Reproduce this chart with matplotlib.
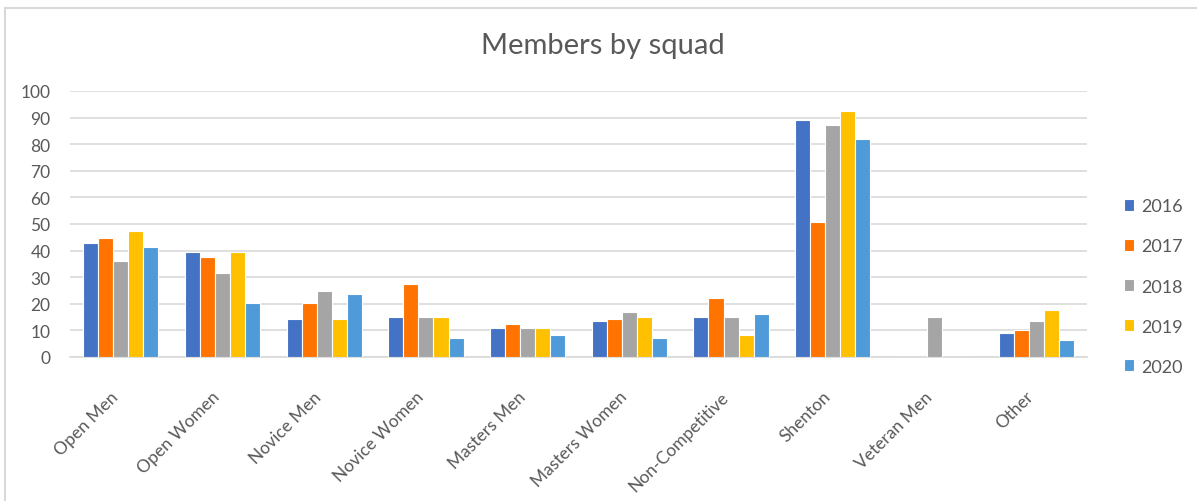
import matplotlib
matplotlib.use("Agg")
from matplotlib import pyplot as plt
from matplotlib.lines import Line2D
from matplotlib.transforms import ScaledTranslation
import numpy as np

# data
squads = ["Open Men", "Open Women", "Novice Men", "Novice Women", "Masters Men",
          "Masters Women", "Non-Competitive", "Shenton", "Veteran Men", "Other"]
years = ["2016", "2017", "2018", "2019", "2020"]

members_2016 = [43, 39.5, 14.3, 15.2, 10.8, 13.4, 15.2, 89.1, 0, 9.0]
members_2017 = [44.7, 37.7, 20.3, 27.3, 12.5, 14.3, 22.1, 50.8, 0, 10.0]
members_2018 = [36, 31.6, 24.7, 15.2, 10.8, 16.9, 15.2, 87.3, 15.2, 13.4]
members_2019 = [47.2, 39.6, 14.3, 15.2, 10.8, 15.2, 8.1, 92.6, 0, 17.8]
members_2020 = [41.2, 20.3, 23.8, 7.3, 8.1, 7.3, 16.0, 82.1, 0, 6.4]

series = [members_2016, members_2017, members_2018, members_2019, members_2020]
colors = ["#4472C4", "#FF7300", "#A5A5A5", "#FFC000", "#4F9BD9"]

plt.rcParams['font.family'] = ['Lato', 'DejaVu Sans']

fig = plt.figure(figsize=(11.97, 5.02), dpi=100)
ax = fig.add_axes([70 / 1197, 144 / 502, (1087 - 70) / 1197, 266 / 502])

x = np.arange(len(squads))
w = 0.148
for i, (vals, c) in enumerate(zip(series, colors)):
    ax.bar(x + (i - 2) * w, vals, w, color=c, edgecolor="white", linewidth=0.8,
           label=years[i], zorder=3)

ax.set_xlim(-0.5, len(squads) - 0.5)
ax.set_ylim(0, 100)
ax.set_yticks(range(0, 101, 10))
ax.grid(axis="y", color="#D9D9D9", linewidth=1.2, zorder=0)
for s in ["top", "right", "left"]:
    ax.spines[s].set_visible(False)
ax.spines["bottom"].set_color("#D9D9D9")
ax.spines["bottom"].set_linewidth(1.2)
ax.tick_params(axis="both", length=0, colors="#595959", labelsize=12.5)
ax.tick_params(axis="y", pad=14)
ax.set_xticks(x)
ax.set_xticklabels(squads, rotation=45, ha="right", va="center",
                   rotation_mode="anchor")
ax.tick_params(axis="x", pad=25)
shift = ScaledTranslation(-5 / 100, -2 / 100, fig.dpi_scale_trans)
for lbl in ax.get_xticklabels():
    lbl.set_transform(lbl.get_transform() + shift)

fig.suptitle("Members by squad", x=603 / 1197, y=1 - 46 / 502, va="center",
             fontsize=21, color="#595959")

leg = ax.legend(loc="center left", bbox_to_anchor=(1.02, 0.265), frameon=False,
                fontsize=13, labelcolor="#595959", handlelength=0.6,
                handleheight=0.6, handletextpad=0.4, labelspacing=1.33)

# chart border (top and left edge visible)
fig.add_artist(Line2D([5 / 1197, 1], [1 - 9 / 502, 1 - 9 / 502], color="#D9D9D9", lw=1.5))
fig.add_artist(Line2D([5 / 1197, 5 / 1197], [0, 1 - 9 / 502], color="#D9D9D9", lw=1.5))

plt.savefig("out.png", dpi=100)
